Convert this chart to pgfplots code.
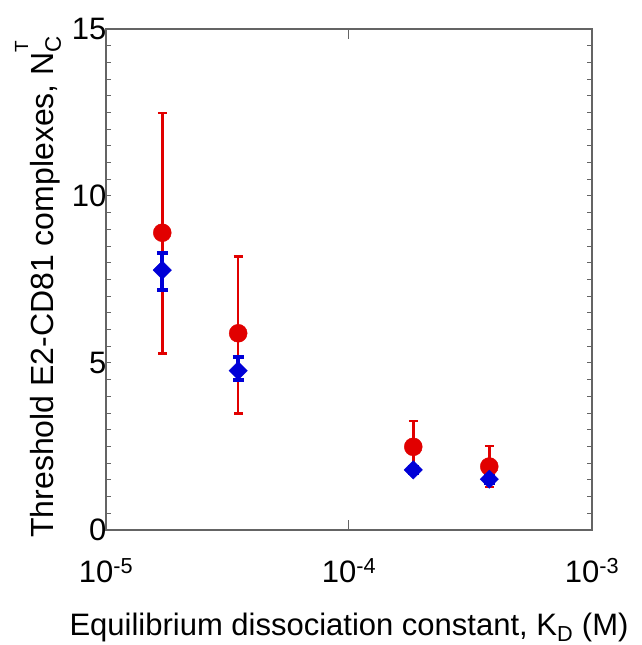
\documentclass[border=0pt]{standalone}
\usepackage{fontspec}
\setmainfont{Liberation Sans}
\usepackage{pgfplots}
\pgfplotsset{compat=1.18}
\definecolor{ptred}{RGB}{225,0,0}
\definecolor{ptblue}{RGB}{0,0,215}
\definecolor{framegray}{RGB}{100,100,100}

\begin{document}
\begin{tikzpicture}
\begin{axis}[
    scale only axis,
    width=486pt,
    height=501pt,
    xmode=log,
    xmin=1e-5, xmax=1e-3,
    ymin=0, ymax=15,
    xtick={1e-5,1e-3},
    xticklabels={10\textsuperscript{-5},10\textsuperscript{-3}},
    extra x ticks={1e-4},
    extra x tick labels={10\textsuperscript{-4}},
    extra x tick style={major tick length=10pt},
    ytick={0,5,10,15},
    minor y tick num=9,
    /pgf/number format/assume math mode=true,
    tick align=inside,
    major tick length=5pt,
    minor tick length=5pt,
    axis line style={framegray, line width=1.3pt},
    every tick/.style={framegray, line width=1pt},
    xticklabel style={font=\fontsize{31}{37}\selectfont, yshift=-25pt},
    yticklabel style={font=\fontsize{31}{37}\selectfont, xshift=4pt},
    xlabel={Equilibrium dissociation constant, K\textsubscript{D} (M)},
    ylabel={Threshold E2-CD81 complexes, N\rlap{\raisebox{0.8em}{\fontsize{19}{22}\selectfont T}}\textsubscript{C}},
    xlabel style={font=\fontsize{31}{36}\selectfont, at={(axis description cs:0.5,-0.158)}, anchor=north},
    ylabel style={font=\fontsize{32}{37}\selectfont, at={(axis description cs:-0.085,0.486)}, anchor=south},
    clip=false,
]
% red circles
\addplot[only marks, color=ptred, mark=*, mark size=9pt,
    error bars/.cd, y dir=both, y explicit,
    error bar style={ptred, line width=2.5pt},
    error mark options={ptred, line width=2.5pt, mark size=4.5pt, rotate=90}]
coordinates {
    (1.705e-5, 8.90) += (0,3.58) -= (0,3.61)
    (3.50e-5, 5.89) += (0,2.30) -= (0,2.40)
    (1.839e-4, 2.49) += (0,0.78) -= (0,0.78)
    (3.779e-4, 1.90) += (0,0.61) -= (0,0.62)
};
% blue diamonds
\addplot[only marks, color=ptblue, mark=square*, mark size=6.5pt, mark options={rotate=45},
    error bars/.cd, y dir=both, y explicit,
    error bar style={ptblue, line width=4pt},
    error mark options={ptblue, line width=4pt, mark size=5.5pt, rotate=90}]
coordinates {
    (1.705e-5, 7.78) += (0,0.50) -= (0,0.59)
    (3.50e-5, 4.77) += (0,0.42) -= (0,0.28)
    (1.839e-4, 1.80) += (0,0.10) -= (0,0.10)
    (3.779e-4, 1.52) += (0,0.10) -= (0,0.10)
};
\end{axis}
\path ([shift={(-106pt,-115pt)}]current axis.south west) rectangle ([shift={(50pt,29pt)}]current axis.north east);
\end{tikzpicture}
\end{document}
